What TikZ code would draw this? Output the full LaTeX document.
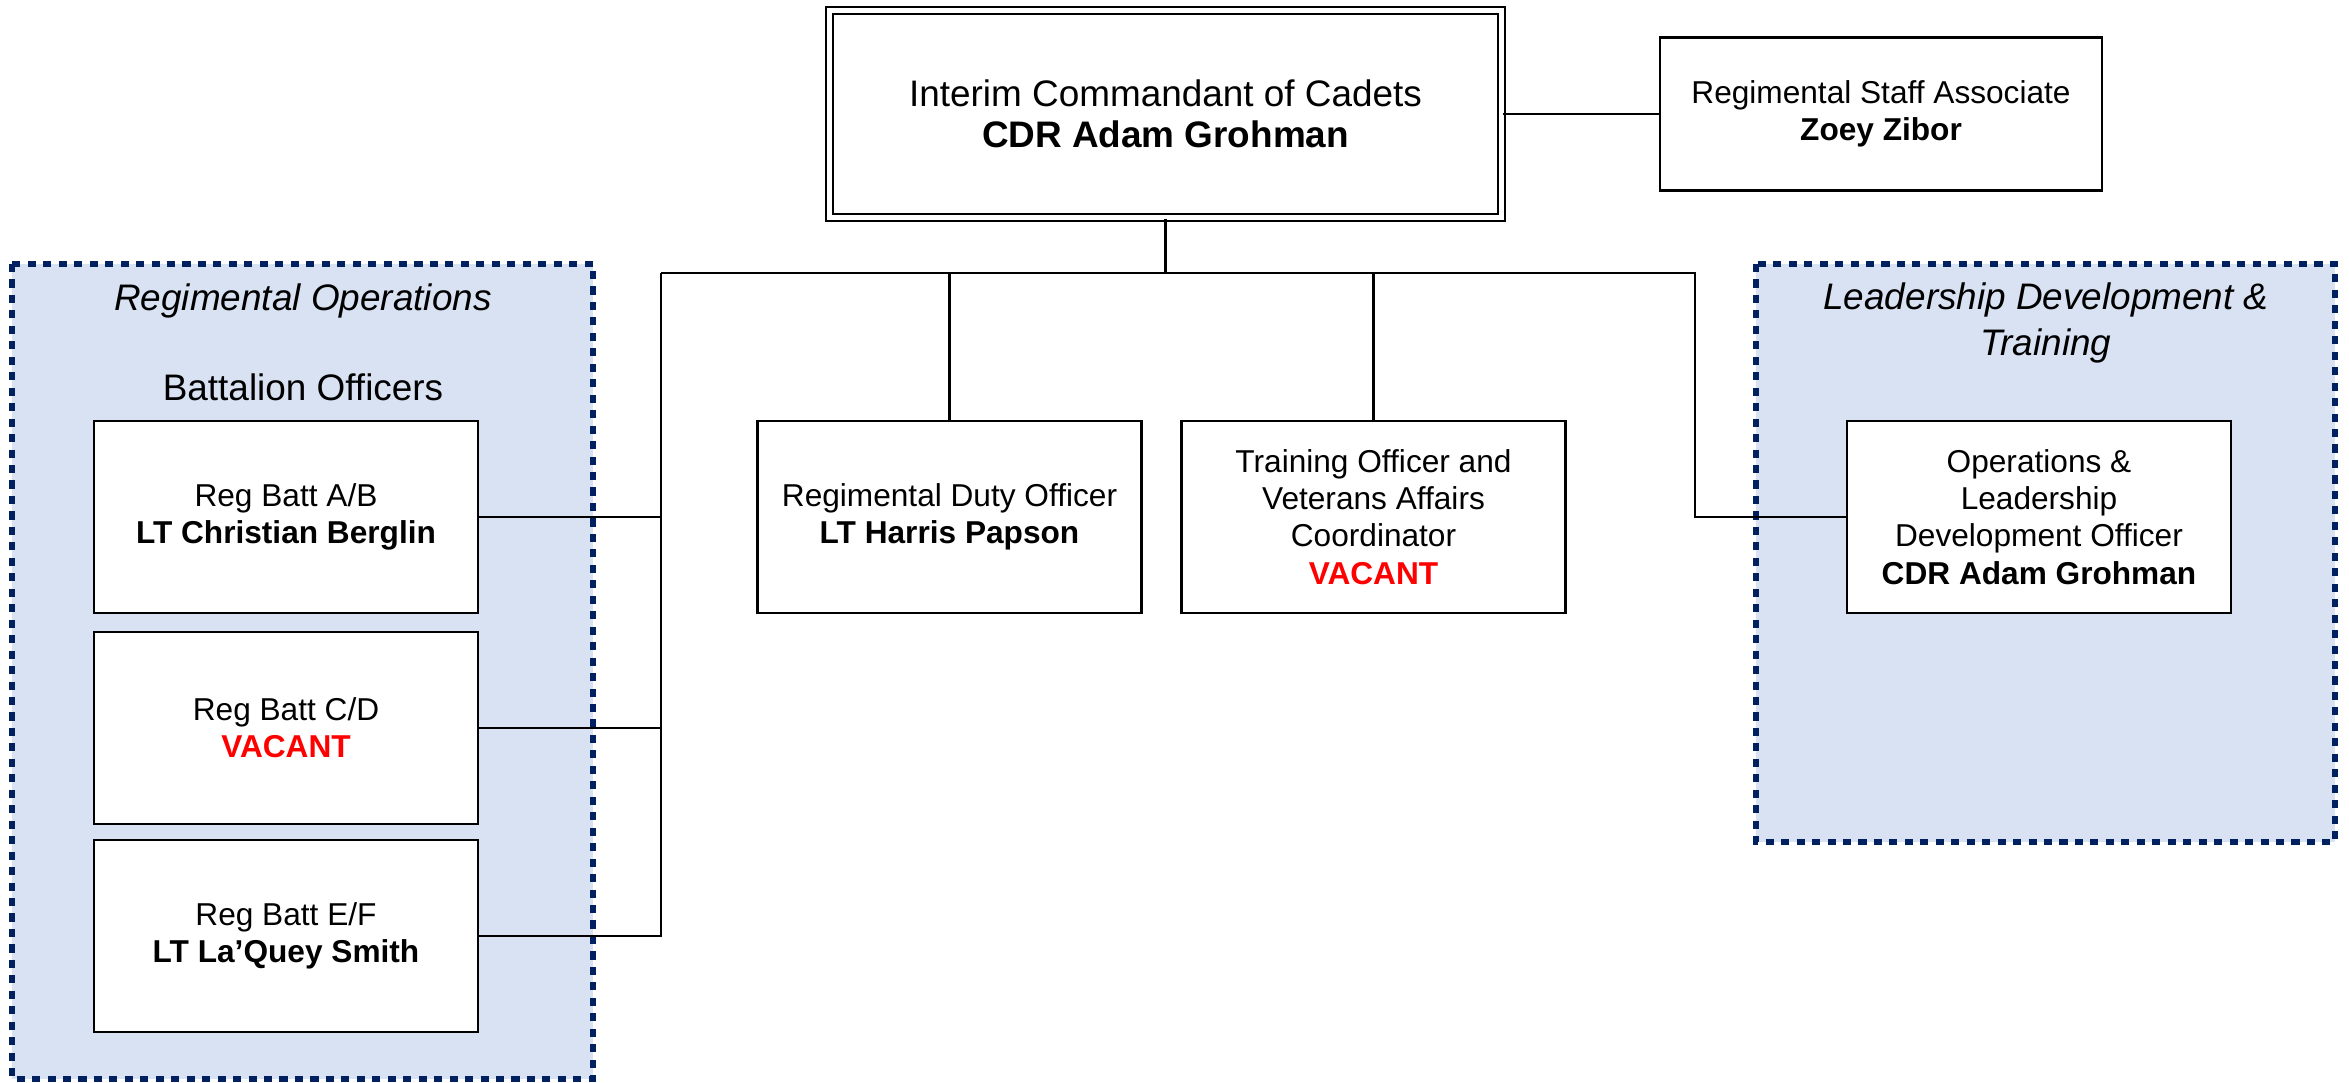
\documentclass[tikz,border=0pt]{standalone}
\usepackage{fontspec}
\setmainfont{Liberation Sans}
\definecolor{panelfill}{HTML}{D9E2F3}
\definecolor{panelline}{HTML}{002060}
\tikzset{
  post/.style={draw, line width=0.8pt, fill=white, align=center, inner sep=0pt,
    minimum width=3.84cm, minimum height=1.92cm, font=\fontsize{9}{10.6}\selectfont},
  panel/.style={fill=panelfill, draw=panelline, line width=1.5pt, dash pattern=on 2.3pt off 2.1pt},
  link/.style={line width=0.7pt},
  heading/.style={align=center, font=\fontsize{10.5}{13}\selectfont\itshape}
}

\begin{document}
\begin{tikzpicture}
\useasboundingbox (0,0) rectangle (23.49,10.82);
\draw[panel] (0.12,8.18) rectangle (5.93,0.03);
\draw[panel] (17.56,8.18) rectangle (23.35,2.40);
\node[heading] (opshead) at (3.03,7.81) {Regimental Operations};
\node[font=\fontsize{10.5}{13}\selectfont] (batthead) at (3.03,6.95) {Battalion Officers};
\node[heading] (ldthead) at (20.46,7.59) {Leadership Development \&\\Training};

\node[draw, double, double distance=1.2pt, line width=0.75pt, align=center, inner sep=0pt,
  minimum width=6.72cm, minimum height=2.07cm, font=\fontsize{10.5}{11.6}\selectfont]
  (cmdt) at (11.655,9.68) {Interim Commandant of Cadets\\\textbf{CDR Adam Grohman}};
\node[post, minimum width=4.42cm, minimum height=1.53cm] (zoey) at (18.81,9.68)
  {Regimental Staff Associate\\\textbf{Zoey Zibor}};
\node[post] (battab) at (2.86,5.65) {Reg Batt A/B\\\textbf{LT Christian Berglin}};
\node[post] (battcd) at (2.86,3.54) {Reg Batt C/D\\\textcolor{red}{\textbf{VACANT}}};
\node[post] (battef) at (2.86,1.46) {Reg Batt E/F\\\textbf{LT La’Quey Smith}};
\node[post] (duty) at (9.495,5.65) {Regimental Duty Officer\\\textbf{LT Harris Papson}};
\node[post] (train) at (13.735,5.65) {Training Officer and\\Veterans Affairs\\Coordinator\\\textcolor{red}{\textbf{VACANT}}};
\node[post] (ops) at (20.39,5.65) {Operations \&\\Leadership\\Development Officer\\\textbf{CDR Adam Grohman}};

\coordinate (busleft) at (6.61,8.09);
\coordinate (busright) at (16.95,8.09);
\draw[link] (cmdt) -- (zoey);
\draw[link] (cmdt.south) -- (cmdt.south |- busleft);
\draw[link] (busleft) -- (busright) |- (ops.west);
\draw[link] (battab.east) -| (busleft);
\draw[link] (battcd.east) -| (busleft);
\draw[link] (battef.east) -| (busleft);
\draw[link] (duty.north) -- (duty.north |- busleft);
\draw[link] (train.north) -- (train.north |- busleft);
\end{tikzpicture}
\end{document}
